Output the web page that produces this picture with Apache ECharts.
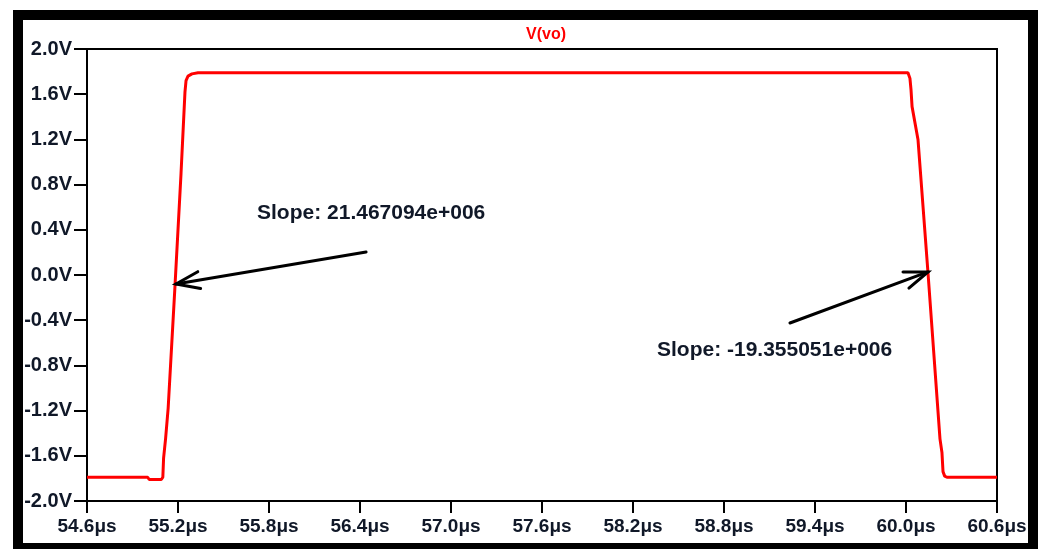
<!DOCTYPE html>
<html>
<head>
<meta charset="utf-8">
<title>V(vo)</title>
<script src="https://cdn.jsdelivr.net/npm/echarts@6/dist/echarts.min.js"></script>
<style>
  html, body { margin: 0; padding: 0; background: #fff; }
  #chart { width: 1046px; height: 549px; }
</style>
</head>
<body>
<div id="chart"></div>
<script>
// Transient waveform of V(vo): time in microseconds, voltage in volts
const timeUs = [54.60, 55.00, 55.01, 55.09, 55.100, 55.105, 55.118, 55.135, 55.180, 55.220,
                55.246, 55.253, 55.266, 55.292, 55.332, 60.013, 60.026, 60.033, 60.040, 60.079,
                60.145, 60.224, 60.237, 60.244, 60.255, 60.270, 60.600];
const volts  = [-1.79, -1.79, -1.81, -1.81, -1.79, -1.62, -1.45, -1.18, -0.10, 0.90,
                1.62, 1.72, 1.76, 1.78, 1.79, 1.79, 1.74, 1.64, 1.49, 1.20,
                0.02, -1.45, -1.57, -1.74, -1.78, -1.79, -1.79];

// Axis ranges and tick spacing
const xMin = 54.6, xMax = 60.6, xStep = 0.6;
const yMin = -2.0, yMax = 2.0, yStep = 0.4;

// Slope cursor annotations: arrow from [t0, v0] to tip [t1, v1]
const arrowFrom = [[56.44, 0.204], [59.235, -0.425]];
const arrowTo   = [[55.187, -0.08], [60.145, 0.027]];
const noteAt    = [[55.721, 0.549], [58.358, -0.664]];
const noteText  = ['Slope: 21.467094e+006', 'Slope: -19.355051e+006'];

const FONT = '"Liberation Sans", Arial, sans-serif';
const waveform = timeUs.map((t, i) => [t, volts[i]]);
const arrows = arrowFrom.map((p, i) => [p[0], p[1], arrowTo[i][0], arrowTo[i][1]]);
const notes = noteAt.map((p, i) => [p[0], p[1], i]);

const chart = echarts.init(document.getElementById('chart'), null, { renderer: 'canvas' });

chart.setOption({
  animation: false,
  backgroundColor: '#ffffff',
  title: {
    text: 'V(vo)',
    left: 526,
    top: 27,
    padding: 0,
    textStyle: { color: '#ff0000', fontFamily: FONT, fontWeight: 'bold', fontSize: 16 }
  },
  grid: {
    left: 87, right: 49, top: 49, bottom: 48,
    show: true, borderColor: '#000', borderWidth: 2, backgroundColor: '#fff'
  },
  xAxis: {
    type: 'value',
    min: xMin, max: xMax, interval: xStep,
    axisLine: { show: true, onZero: false, lineStyle: { color: '#000', width: 2 } },
    axisTick: { show: true, length: 12, lineStyle: { color: '#000', width: 2 } },
    splitLine: { show: false },
    axisLabel: {
      margin: 16,
      color: '#101828',
      fontFamily: FONT, fontWeight: 'bold', fontSize: 19,
      showMinLabel: true, showMaxLabel: true,
      formatter: v => v.toFixed(1) + 'μs'
    }
  },
  yAxis: {
    type: 'value',
    min: yMin, max: yMax, interval: yStep,
    axisLine: { show: true, onZero: false, lineStyle: { color: '#000', width: 2 } },
    axisTick: { show: true, length: 13, lineStyle: { color: '#000', width: 2 } },
    splitLine: { show: false },
    axisLabel: {
      margin: 15,
      color: '#101828',
      fontFamily: FONT, fontWeight: 'bold', fontSize: 20,
      formatter: v => (Math.abs(v) < 1e-9 ? 0 : v).toFixed(1) + 'V'
    }
  },
  graphic: [{
    type: 'rect',
    silent: true,
    shape: { x: 18, y: 15, width: 1015, height: 533 },
    style: { fill: 'none', stroke: '#000', lineWidth: 10 },
    z: 100
  }],
  series: [
    {
      name: 'V(vo)',
      type: 'line',
      data: waveform,
      showSymbol: false,
      lineStyle: { color: '#ff0000', width: 3 },
      z: 3
    },
    {
      // cursor arrows with open chevron heads
      type: 'custom',
      data: arrows,
      z: 4,
      renderItem: (params, api) => {
        const p0 = api.coord([api.value(0), api.value(1)]);
        const p1 = api.coord([api.value(2), api.value(3)]);
        const ang = Math.atan2(p0[1] - p1[1], p0[0] - p1[0]);
        const len = 25, spread = 20 * Math.PI / 180;
        const a1 = [p1[0] + len * Math.cos(ang - spread), p1[1] + len * Math.sin(ang - spread)];
        const a2 = [p1[0] + len * Math.cos(ang + spread), p1[1] + len * Math.sin(ang + spread)];
        const style = { stroke: '#000', lineWidth: 3, lineCap: 'round', fill: 'none' };
        return {
          type: 'group',
          children: [
            { type: 'line', shape: { x1: p0[0], y1: p0[1], x2: p1[0], y2: p1[1] }, style },
            { type: 'polyline', shape: { points: [a1, p1, a2] }, style }
          ]
        };
      }
    },
    {
      // slope readouts
      type: 'custom',
      data: notes,
      z: 4,
      renderItem: (params, api) => {
        const p = api.coord([api.value(0), api.value(1)]);
        return {
          type: 'text',
          x: p[0], y: p[1],
          style: {
            text: noteText[api.value(2)],
            fill: '#101828',
            font: 'bold 21px ' + FONT,
            align: 'left',
            verticalAlign: 'middle'
          }
        };
      }
    }
  ]
});
</script>
</body>
</html>
